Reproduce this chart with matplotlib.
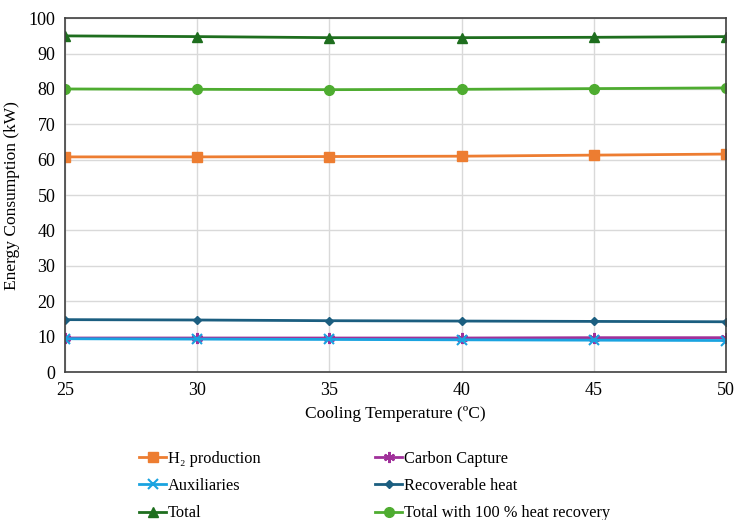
import matplotlib
matplotlib.use("Agg")
import matplotlib.pyplot as plt

plt.rcParams['font.family'] = ['Liberation Serif', 'DejaVu Serif']

temps = [25, 30, 35, 40, 45, 50]
h2 = [60.8, 60.8, 60.9, 61.0, 61.3, 61.6]
carbon = [9.6, 9.6, 9.6, 9.6, 9.7, 9.7]
aux = [9.4, 9.3, 9.2, 9.1, 9.0, 8.9]
recov = [14.8, 14.7, 14.5, 14.4, 14.3, 14.2]
total = [95.0, 94.8, 94.5, 94.5, 94.6, 94.8]
total_rec = [80.0, 79.9, 79.8, 79.9, 80.1, 80.3]

fig = plt.figure(figsize=(7.34, 5.2), dpi=100)
ax = fig.add_axes([0.0886, 0.2846, 0.9004, 0.6804])

l1, = ax.plot(temps, h2, color='#ED7D31', marker='s', ms=6.5, lw=2, label='H\u2082 production')
l2, = ax.plot(temps, carbon, color='#A0309A', marker=(6, 2, 0), ms=8, mew=1.5, lw=2, label='Carbon Capture')
l3, = ax.plot(temps, aux, color='#1AA3E0', marker='x', ms=6.5, mew=1.5, lw=2, label='Auxiliaries')
l4, = ax.plot(temps, recov, color='#1B5E80', marker='D', ms=4.5, lw=2, label='Recoverable heat')
l5, = ax.plot(temps, total, color='#1E6E1E', marker='^', ms=6.5, lw=2, label='Total')
l6, = ax.plot(temps, total_rec, color='#4EAC30', marker='o', ms=7, lw=2, label='Total with 100 % heat recovery')

ax.set_xlim(25, 50)
ax.set_ylim(0, 100)
ax.set_xticks(temps)
ax.set_yticks(range(0, 101, 10))
ax.grid(True, color='#D9D9D9', lw=1)
ax.set_axisbelow(True)
for s in ax.spines.values():
    s.set_color('#404040')
    s.set_linewidth(1.2)
ax.tick_params(length=0, labelsize=13, pad=7)
ax.set_xlabel('Cooling Temperature (ºC)', fontsize=12.5, labelpad=5)
ax.set_ylabel('Energy Consumption (kW)', fontsize=12.5, labelpad=6)

leg = fig.legend(handles=[l1, l3, l5, l2, l4, l6], ncol=2, frameon=False,
                 loc='upper left', fontsize=11.8,
                 handlelength=1.6, columnspacing=7.0, labelspacing=0.69, handletextpad=0.15,
                 borderaxespad=0, borderpad=0)
leg.set_bbox_to_anchor((0.19, 0.133), transform=fig.transFigure)
fig.savefig('out.png', dpi=100)
